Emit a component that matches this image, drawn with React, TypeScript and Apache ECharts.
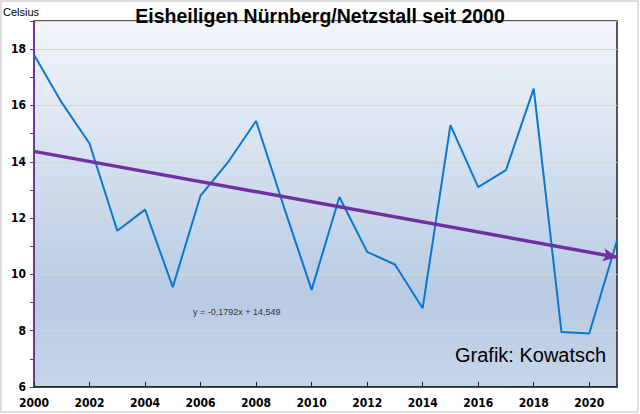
import React, { useEffect, useRef } from "react";
import * as echarts from "echarts";

const years = [2000, 2001, 2002, 2003, 2004, 2005, 2006, 2007, 2008, 2009, 2010, 2011, 2012, 2013, 2014, 2015, 2016, 2017, 2018, 2019, 2020, 2021];
const temps = [17.8, 16.1, 14.65, 11.55, 12.3, 9.55, 12.8, 14.0, 15.45, 12.4, 9.45, 12.75, 10.8, 10.35, 8.8, 15.3, 13.1, 13.7, 16.6, 7.95, 7.9, 11.2];
const trendStart = [2000, 14.37];
const trendEnd = [2021, 10.61];
const titleText = "Eisheiligen Nürnberg/Netzstall seit 2000";
const equationText = "y = -0,1792x + 14,549";
const creditText = "Grafik: Kowatsch";
const yAxisName = "Celsius";

export default function App() {
  const ref = useRef<HTMLDivElement>(null);
  useEffect(() => {
    document.body.style.margin = "0";
    const chart = echarts.init(ref.current!, null, { renderer: "svg" });
    const labelFont = "'Liberation Sans Narrow', 'DejaVu Sans Condensed', 'Open Sans', sans-serif";
    chart.setOption({
      animation: false,
      backgroundColor: "#ffffff",
      title: {
        text: titleText,
        left: "center",
        top: 1,
        textStyle: { fontFamily: "'Liberation Sans', Arial, sans-serif", fontSize: 19.5, fontWeight: "bold", color: "#000" },
      },
      grid: {
        left: 33,
        right: 23,
        top: 21,
        bottom: 27,
        show: true,
        borderColor: "#222",
        borderWidth: 1.5,
        backgroundColor: new echarts.graphic.LinearGradient(0, 0, 0, 1, [
          { offset: 0, color: "#f3f6fb" },
          { offset: 0.75, color: "#b8cbe3" },
          { offset: 1, color: "#c6d5e9" },
        ]),
      },
      xAxis: {
        type: "value",
        min: 2000,
        max: 2021,
        interval: 2,
        axisLine: { show: true, lineStyle: { color: "#222", width: 1.5 } },
        axisTick: { show: true, inside: true, length: 5, lineStyle: { color: "#222" } },
        splitLine: { show: false },
        axisLabel: {
          showMaxLabel: false,
          formatter: (v: number) => String(v),
          margin: 10,
          fontFamily: labelFont,
          fontSize: 12,
          fontWeight: "bold",
          color: "#000",
        },
      },
      yAxis: {
        type: "value",
        min: 6,
        max: 19,
        interval: 2,
        name: yAxisName,
        nameLocation: "end",
        nameGap: 0,
        nameTextStyle: { fontFamily: "'Liberation Sans', Arial, sans-serif", fontSize: 11, color: "#000", align: "left", padding: [0, 0, 4, -31] },
        axisLine: { show: true, lineStyle: { color: "#7030a0", width: 1 } },
        axisTick: { show: true, length: 4, lineStyle: { color: "#7030a0" } },
        minorTick: { show: true, splitNumber: 2, length: 4, lineStyle: { color: "#7030a0" } },
        splitLine: { show: true, lineStyle: { color: "#d3d6cc", width: 1 } },
        axisLabel: {
          showMaxLabel: false,
          margin: 8,
          fontFamily: labelFont,
          fontSize: 12,
          fontWeight: "bold",
          color: "#000",
        },
      },
      series: [
        {
          type: "line",
          data: years.map((y, i) => [y, temps[i]]),
          symbol: "none",
          lineStyle: { color: "#0a78d2", width: 2 },
          z: 3,
          markLine: {
            silent: true,
            symbol: ["none", "arrow"],
            symbolSize: [10, 14],
            label: { show: false },
            lineStyle: { color: "#7030a0", width: 3.5, type: "solid" },
            data: [[{ coord: trendStart }, { coord: trendEnd }]],
            z: 4,
          },
        },
      ],
      graphic: [
        {
          type: "rect",
          shape: { x: 1, y: 1, width: 637, height: 411 },
          style: { fill: "none", stroke: "#d4d4d4", lineWidth: 1.5 },
          z: -1,
        },
        {
          type: "text",
          left: 193,
          top: 307,
          style: { text: equationText, fontFamily: "'Liberation Sans', Arial, sans-serif", fontSize: 9, fill: "#333" },
        },
        {
          type: "text",
          left: 455,
          top: 345,
          style: { text: creditText, fontFamily: "'Liberation Sans', Arial, sans-serif", fontSize: 20, fill: "#000" },
        },
      ],
    });
    return () => chart.dispose();
  }, []);
  return <div ref={ref} style={{ width: 640, height: 414 }} />;
}
